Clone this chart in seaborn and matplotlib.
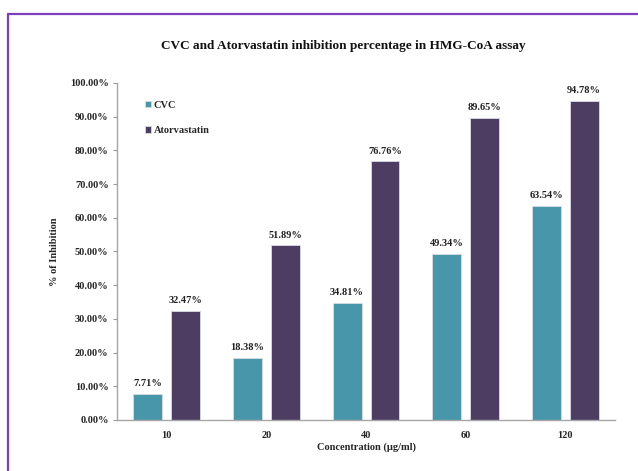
import matplotlib
matplotlib.use("Agg")
import matplotlib.pyplot as plt
import seaborn as sns
import pandas as pd
from matplotlib.lines import Line2D
from matplotlib.ticker import FuncFormatter, MultipleLocator

concentrations = ["10", "20", "40", "60", "120"]
cvc = [7.71, 18.38, 34.81, 49.34, 63.54]
atorvastatin = [32.47, 51.89, 76.76, 89.65, 94.78]
series_names = ["CVC", "Atorvastatin"]
colors = ["#4796A9", "#4E3D63"]

df = pd.DataFrame({
    "Concentration": concentrations * 2,
    "Series": [series_names[0]] * 5 + [series_names[1]] * 5,
    "Value": [v / 100 for v in cvc + atorvastatin],
})

sns.set_theme(style="white")
plt.rcParams["font.family"] = ["Liberation Serif", "DejaVu Serif"]

fig = plt.figure(figsize=(6.38, 4.71), dpi=100)
ax = fig.add_axes([0.1834, 0.1083, 0.7806, 0.7155])

sns.barplot(data=df, x="Concentration", y="Value", hue="Series",
            order=concentrations, hue_order=series_names,
            palette=colors, width=0.76, gap=0.237, saturation=1,
            edgecolor="#d8dde3", linewidth=0.6, ax=ax, legend=True)

ax.set_ylim(0, 1.0)
ax.yaxis.set_major_locator(MultipleLocator(0.1))
ax.yaxis.set_major_formatter(FuncFormatter(lambda v, p: f"{v*100:.2f}%"))
ax.tick_params(axis="y", labelsize=7.5, length=3, width=0.8, color="#999999",
               direction="out", left=True, pad=3)
ax.tick_params(axis="x", labelsize=7.5, length=0, pad=8)
for lab in ax.get_xticklabels():
    lab.set_fontweight("bold")
for lab in ax.get_yticklabels():
    lab.set_fontweight("bold")

for s in ["top", "right"]:
    ax.spines[s].set_visible(False)
for s in ["left", "bottom"]:
    ax.spines[s].set_color("#a6a6a6")
    ax.spines[s].set_linewidth(1.0)

for cont in ax.containers:
    ax.bar_label(cont, labels=[f"{b.get_height()*100:.2f}%" for b in cont],
                 padding=4, fontsize=7.5, fontweight="bold", color="#222222")

ax.set_xlabel("Concentration (\u00b5g/ml)", fontsize=7.5, fontweight="bold", labelpad=2)
ax.set_ylabel("% of Inhibition", fontsize=7.5, fontweight="bold", labelpad=8)

fig.text(0.538, 0.902, "CVC and Atorvastatin inhibition percentage in HMG-CoA assay",
         ha="center", va="center", fontsize=9.5, fontweight="bold", color="#111111")

leg = ax.legend(loc="upper left", bbox_to_anchor=(0.047, 0.96), frameon=False,
                fontsize=7.5, handlelength=0.6, handleheight=0.6,
                handletextpad=0.3, labelspacing=1.6, borderaxespad=0)
for t in leg.get_texts():
    t.set_fontweight("bold")

# purple frame (top and left edges)
fig.add_artist(Line2D([8/638, 1.0], [1 - 14/471, 1 - 14/471], transform=fig.transFigure,
                      color="#7E3FBF", linewidth=1.6))
fig.add_artist(Line2D([8/638, 8/638], [0.0, 1 - 14/471], transform=fig.transFigure,
                      color="#7E3FBF", linewidth=1.6))

fig.savefig("out.png", dpi=100)
